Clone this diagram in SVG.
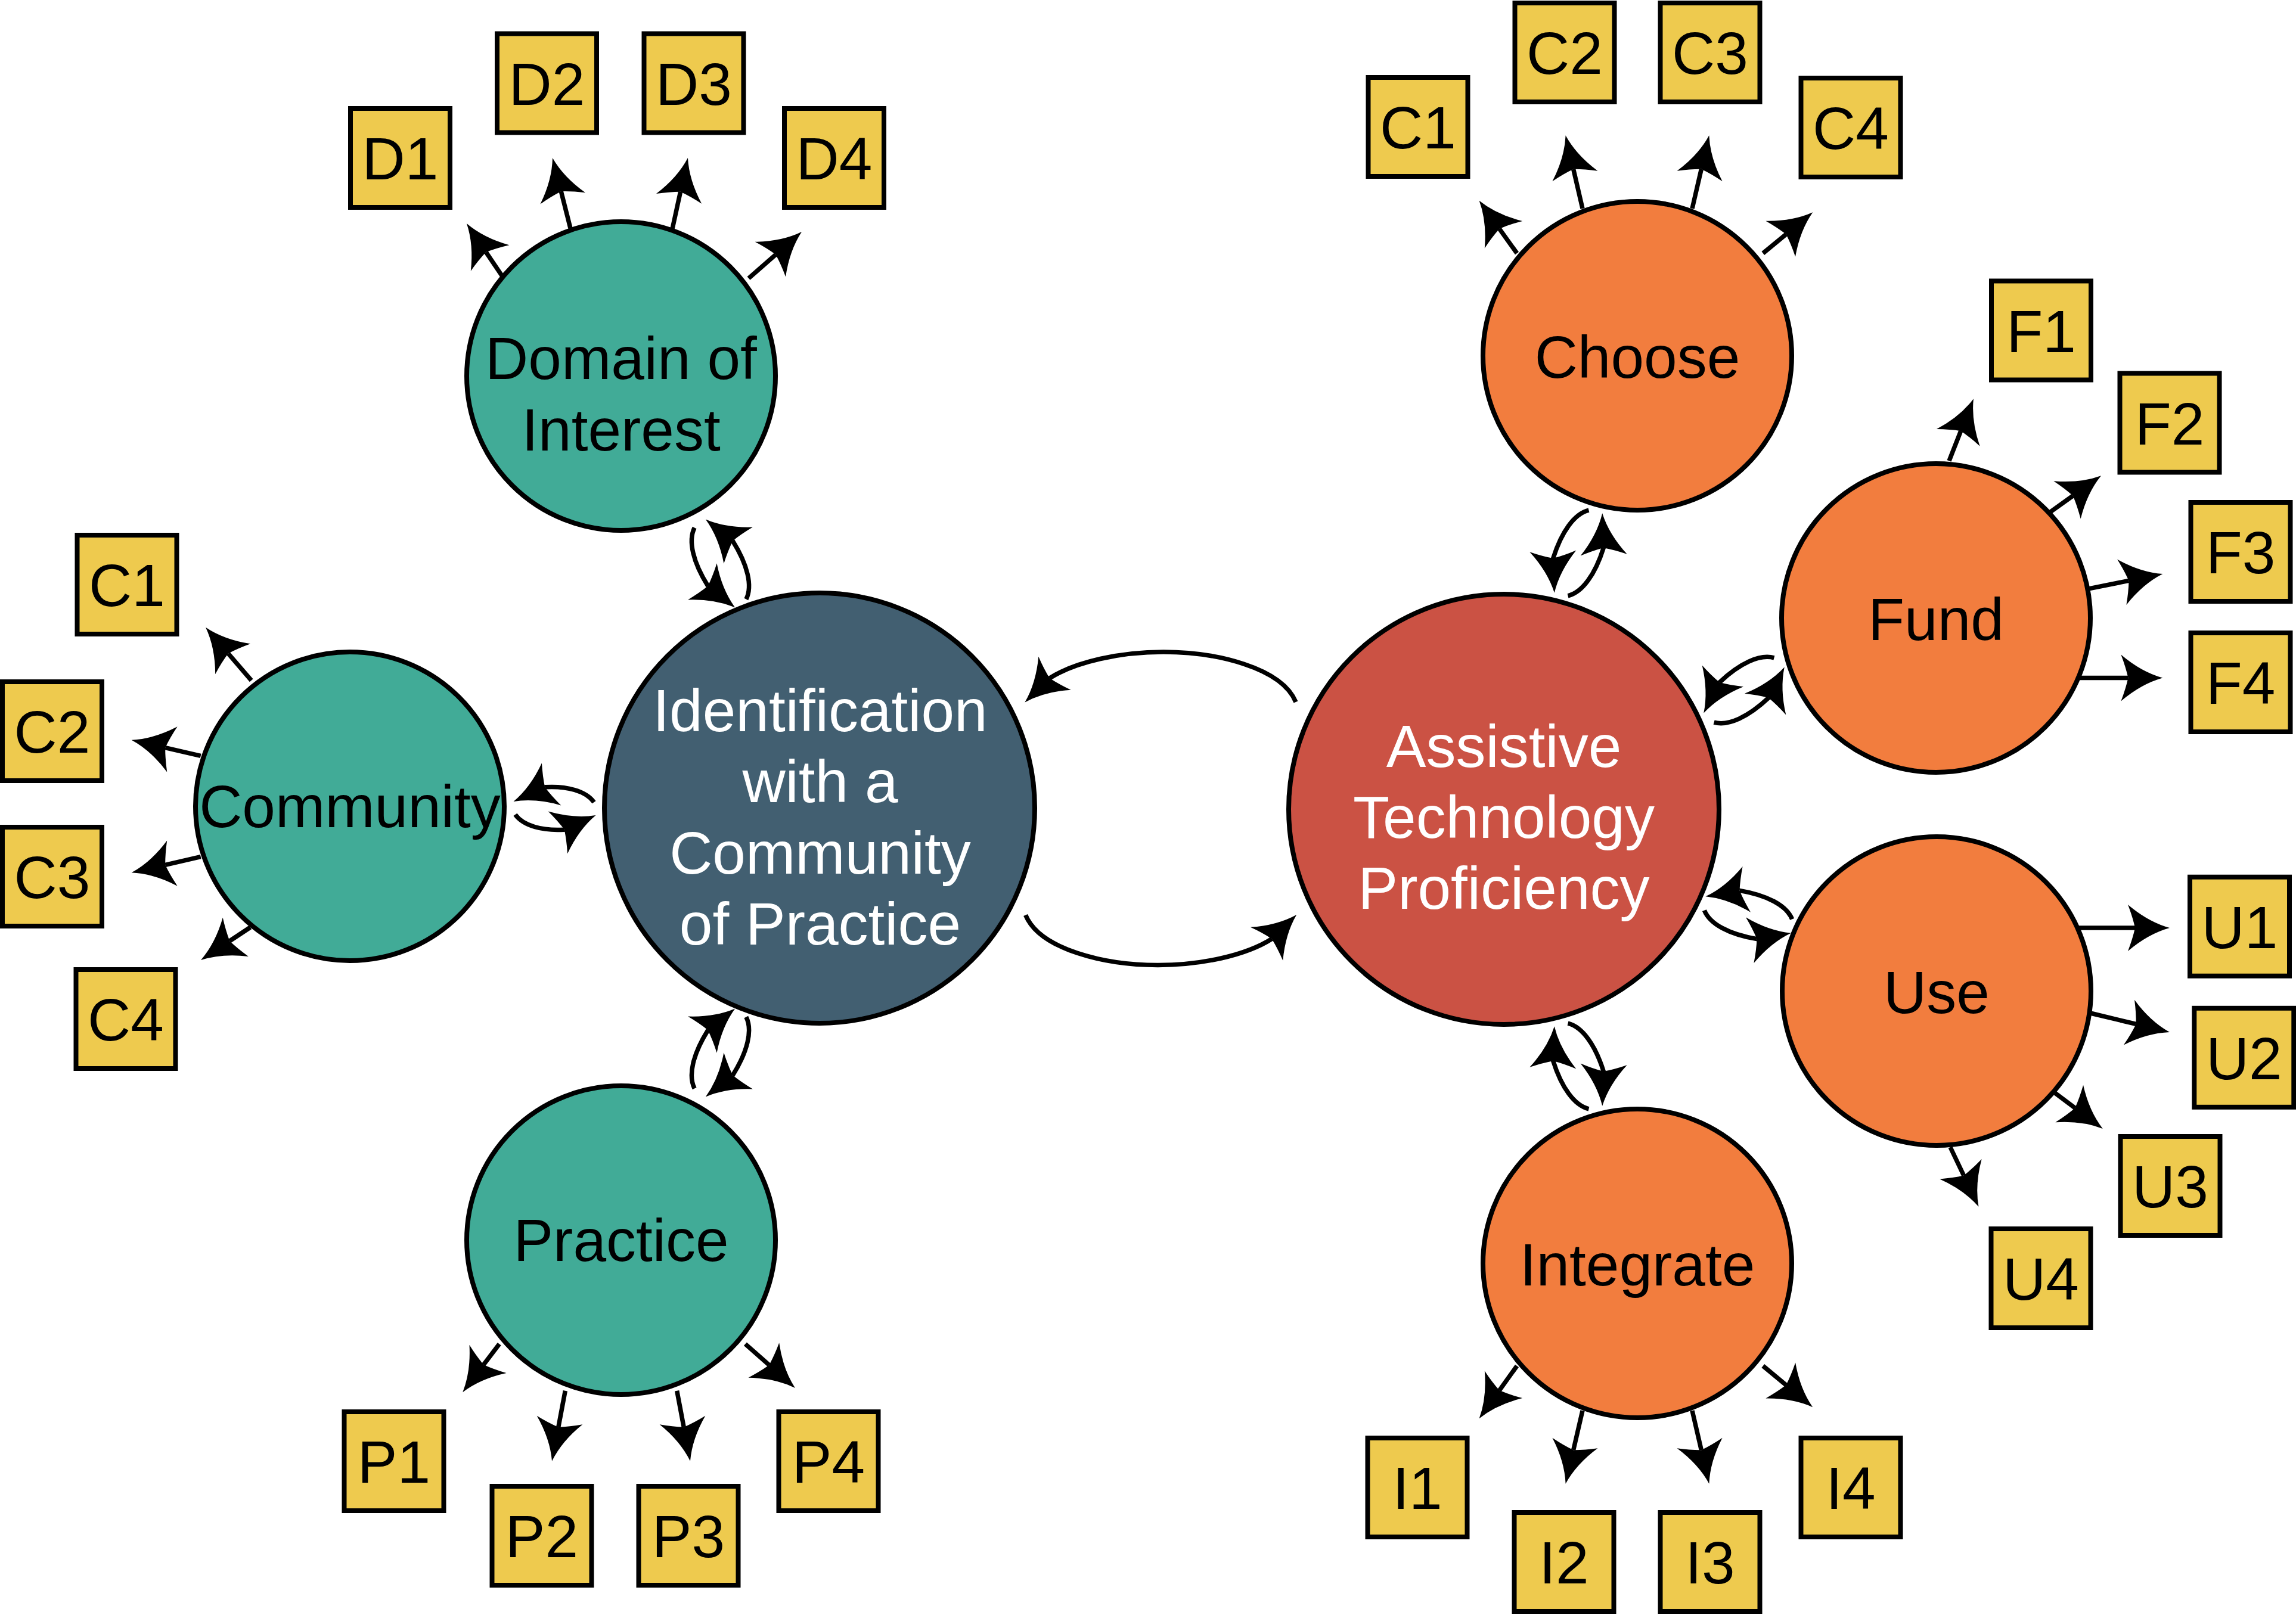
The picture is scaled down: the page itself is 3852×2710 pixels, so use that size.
<svg xmlns="http://www.w3.org/2000/svg" xmlns:xlink="http://www.w3.org/1999/xlink" width="3852" height="2710" viewBox="0 0 3852 2710">
<defs>
<style>
.node circle{stroke:#000;stroke-width:8}
.teal{fill:#41AB97}
.slate{fill:#425F71}
.red{fill:#CB5244}
.orange{fill:#F27D3E}
.lbl{font-family:"Liberation Sans",Arial,sans-serif;font-size:100px;text-anchor:middle;fill:#000}
.wht{fill:#fff}
.box rect{fill:#EECA4E;stroke:#000;stroke-width:8}
.out{fill:none;stroke:#000;stroke-width:7.5;marker-end:url(#ah)}
.arc{fill:none;stroke:#000;stroke-width:7.5;marker-end:url(#ah)}
</style>
<marker id="ah" markerUnits="userSpaceOnUse" viewBox="-15 -42 76 84" markerWidth="76" markerHeight="84" refX="0" refY="0" orient="auto" overflow="visible">
<path d="M58,0 Q22,-10 -12,-39 Q-4,-18 0,0 Q-4,18 -12,39 Q22,10 58,0Z" fill="#000"/>
</marker>
<g id="pair">
<path class="arc" d="M-66,11 C-52,30 -20,38 16.5,35.5 l0.0906,-0.0423"/>
<path class="arc" d="M66,-11 C52,-30 20,-38 -16.5,-35.5 l-0.0906,0.0423"/>
</g>
<g id="pairL">
<path class="arc" d="M-73,12 C-58,32 -22,40 24.5,35.5 l0.0906,-0.0423"/>
<path class="arc" d="M73,-12 C58,-32 22,-40 -24.5,-35.5 l-0.0906,0.0423"/>
</g>
</defs>
<rect width="3852" height="2710" fill="#fff"/>

<g id="connectors">
<!-- big arcs between hubs -->
<path class="arc" d="M2174,1178 C2150,1120 2040,1094 1952,1094 C1880,1094 1805,1110 1761,1138 l-0.0716,0.0698"/>
<path class="arc" transform="rotate(180 1947.3 1356.75)" d="M2174,1178 C2150,1120 2040,1094 1952,1094 C1880,1094 1805,1110 1761,1138 l-0.0716,0.0698"/>
<!-- paired arcs -->
<use xlink:href="#pairL" transform="translate(1208.5,945.5) rotate(63.5)"/>
<use xlink:href="#pair" transform="translate(930.5,1356.5) rotate(0.5)"/>
<use xlink:href="#pairL" transform="matrix(1 0 0 -1 0 2712) translate(1208.5,945.5) rotate(63.5)"/>
<use xlink:href="#pairL" transform="translate(2648,928) rotate(-67)"/>
<use xlink:href="#pairL" transform="matrix(1 0 0 -1 0 2717) translate(2648,928) rotate(-67)"/>
<use xlink:href="#pairL" transform="translate(2926,1158) rotate(-37.7)"/>
<use xlink:href="#pairL" transform="translate(2933,1535) rotate(15.1)"/>
<!-- Domain -->
<line class="out" x1="843" y1="464" x2="815.4" y2="423.1"/>
<line class="out" x1="957" y1="383" x2="941.3" y2="321.2"/>
<line class="out" x1="1128" y1="384" x2="1141.6" y2="321.7"/>
<line class="out" x1="1256" y1="467" x2="1301.4" y2="427.2"/>
<!-- Community -->
<line class="out" x1="421.7" y1="1141.7" x2="382.9" y2="1096.6"/>
<line class="out" x1="336.7" y1="1268.3" x2="277.2" y2="1254.7"/>
<line class="out" x1="336.7" y1="1437.7" x2="277.2" y2="1451.3"/>
<line class="out" x1="420" y1="1556" x2="385.3" y2="1579"/>
<!-- Practice -->
<line class="out" x1="837.7" y1="2255.2" x2="811.3" y2="2290"/>
<line class="out" x1="948.3" y1="2333.8" x2="936.8" y2="2394.7"/>
<line class="out" x1="1135.7" y1="2333.8" x2="1147.2" y2="2394.7"/>
<line class="out" x1="1250.4" y1="2255.2" x2="1290.4" y2="2290.5"/>
<!-- Choose -->
<line class="out" x1="2545" y1="425" x2="2515.5" y2="383.9"/>
<line class="out" x1="2655" y1="350" x2="2639.7" y2="283.8"/>
<line class="out" x1="2839" y1="350" x2="2854.3" y2="283.8"/>
<line class="out" x1="2957.8" y1="425" x2="2996.5" y2="393.1"/>
<!-- Fund -->
<line class="out" x1="3270" y1="773.3" x2="3289.7" y2="723.2"/>
<line class="out" x1="3431.9" y1="864.7" x2="3477.8" y2="831.9"/>
<line class="out" x1="3505.6" y1="987.6" x2="3571.5" y2="974.4"/>
<line class="out" x1="3488.4" y1="1137.4" x2="3570.4" y2="1137.4"/>
<!-- Use -->
<line class="out" x1="3485" y1="1557" x2="3582" y2="1557"/>
<line class="out" x1="3507" y1="1700" x2="3583.6" y2="1718.4"/>
<line class="out" x1="3440" y1="1828.3" x2="3481.3" y2="1859.2"/>
<line class="out" x1="3272" y1="1925" x2="3294.6" y2="1972.5"/>
<!-- Integrate -->
<line class="out" x1="2545" y1="2292" x2="2515.5" y2="2333.1"/>
<line class="out" x1="2655" y1="2367" x2="2639.7" y2="2433.2"/>
<line class="out" x1="2839" y1="2367" x2="2854.3" y2="2433.2"/>
<line class="out" x1="2957.8" y1="2292" x2="2996.5" y2="2324.1"/>
</g>

<g id="node-identification" class="node">
<circle cx="1375" cy="1356" r="361" class="slate"/>
<text class="lbl wht" x="1376" y="1227">Identification</text>
<text class="lbl wht" x="1376" y="1346">with a</text>
<text class="lbl wht" x="1376" y="1466">Community</text>
<text class="lbl wht" x="1376" y="1585">of Practice</text>
</g>
<g id="node-at" class="node">
<circle cx="2523" cy="1358" r="361" class="red"/>
<text class="lbl wht" x="2523" y="1287">Assistive</text>
<text class="lbl wht" x="2523" y="1406">Technology</text>
<text class="lbl wht" x="2523" y="1525">Proficiency</text>
</g>
<g id="node-domain" class="node">
<circle cx="1042" cy="631" r="259" class="teal"/>
<text class="lbl" x="1042" y="636">Domain of</text>
<text class="lbl" x="1042" y="756">Interest</text>
</g>
<g id="node-community" class="node">
<circle cx="587" cy="1353" r="259" class="teal"/>
<text class="lbl" x="587" y="1388">Community</text>
</g>
<g id="node-practice" class="node">
<circle cx="1042" cy="2081" r="259" class="teal"/>
<text class="lbl" x="1042" y="2116">Practice</text>
</g>
<g id="node-choose" class="node">
<circle cx="2747" cy="597" r="259" class="orange"/>
<text class="lbl" x="2747" y="634">Choose</text>
</g>
<g id="node-fund" class="node">
<circle cx="3248" cy="1037" r="259" class="orange"/>
<text class="lbl" x="3248" y="1074">Fund</text>
</g>
<g id="node-use" class="node">
<circle cx="3249" cy="1663" r="259" class="orange"/>
<text class="lbl" x="3249" y="1700">Use</text>
</g>
<g id="node-integrate" class="node">
<circle cx="2747" cy="2120" r="259" class="orange"/>
<text class="lbl" x="2747" y="2157">Integrate</text>
</g>

<g id="box-D1" class="box"><rect x="588" y="182" width="167" height="166"/><text class="lbl" x="671.5" y="301">D1</text></g>
<g id="box-D2" class="box"><rect x="834" y="56.5" width="167" height="166"/><text class="lbl" x="917.5" y="175.5">D2</text></g>
<g id="box-D3" class="box"><rect x="1080.5" y="56.5" width="167" height="166"/><text class="lbl" x="1164" y="175.5">D3</text></g>
<g id="box-D4" class="box"><rect x="1316" y="182" width="167" height="166"/><text class="lbl" x="1399.5" y="301">D4</text></g>

<g id="box-CL1" class="box"><rect x="129.5" y="898" width="167" height="166"/><text class="lbl" x="213" y="1017">C1</text></g>
<g id="box-CL2" class="box"><rect x="4" y="1144" width="167" height="166"/><text class="lbl" x="87.5" y="1263">C2</text></g>
<g id="box-CL3" class="box"><rect x="4" y="1388" width="167" height="166"/><text class="lbl" x="87.5" y="1507">C3</text></g>
<g id="box-CL4" class="box"><rect x="127.5" y="1627" width="167" height="166"/><text class="lbl" x="211" y="1746">C4</text></g>

<g id="box-P1" class="box"><rect x="577.5" y="2369" width="167" height="166"/><text class="lbl" x="661" y="2488">P1</text></g>
<g id="box-P2" class="box"><rect x="825.5" y="2494" width="167" height="166"/><text class="lbl" x="909" y="2613">P2</text></g>
<g id="box-P3" class="box"><rect x="1071.5" y="2494" width="167" height="166"/><text class="lbl" x="1155" y="2613">P3</text></g>
<g id="box-P4" class="box"><rect x="1306.5" y="2369" width="167" height="166"/><text class="lbl" x="1390" y="2488">P4</text></g>

<g id="box-CR1" class="box"><rect x="2295.5" y="130" width="167" height="166"/><text class="lbl" x="2379" y="249">C1</text></g>
<g id="box-CR2" class="box"><rect x="2541.5" y="5" width="167" height="166"/><text class="lbl" x="2625" y="124">C2</text></g>
<g id="box-CR3" class="box"><rect x="2785.5" y="5" width="167" height="166"/><text class="lbl" x="2869" y="124">C3</text></g>
<g id="box-CR4" class="box"><rect x="3021.5" y="131" width="167" height="166"/><text class="lbl" x="3105" y="250">C4</text></g>

<g id="box-F1" class="box"><rect x="3341" y="471.5" width="167" height="166"/><text class="lbl" x="3424.5" y="590.5">F1</text></g>
<g id="box-F2" class="box"><rect x="3556.5" y="626.5" width="167" height="166"/><text class="lbl" x="3640" y="745.5">F2</text></g>
<g id="box-F3" class="box"><rect x="3675.5" y="843" width="167" height="166"/><text class="lbl" x="3759" y="962">F3</text></g>
<g id="box-F4" class="box"><rect x="3675.5" y="1062" width="167" height="166"/><text class="lbl" x="3759" y="1181">F4</text></g>

<g id="box-U1" class="box"><rect x="3674" y="1471.7" width="167" height="166"/><text class="lbl" x="3757.5" y="1590.7">U1</text></g>
<g id="box-U2" class="box"><rect x="3681.3" y="1691.8" width="167" height="166"/><text class="lbl" x="3764.8" y="1810.8">U2</text></g>
<g id="box-U3" class="box"><rect x="3557.5" y="1907" width="167" height="166"/><text class="lbl" x="3641" y="2026">U3</text></g>
<g id="box-U4" class="box"><rect x="3340.5" y="2062" width="167" height="166"/><text class="lbl" x="3424" y="2181">U4</text></g>

<g id="box-I1" class="box"><rect x="2294.5" y="2413" width="167" height="166"/><text class="lbl" x="2378" y="2532">I1</text></g>
<g id="box-I2" class="box"><rect x="2540.5" y="2538" width="167" height="166"/><text class="lbl" x="2624" y="2657">I2</text></g>
<g id="box-I3" class="box"><rect x="2785.5" y="2538" width="167" height="166"/><text class="lbl" x="2869" y="2657">I3</text></g>
<g id="box-I4" class="box"><rect x="3021.5" y="2413" width="167" height="166"/><text class="lbl" x="3105" y="2532">I4</text></g>
</svg>
